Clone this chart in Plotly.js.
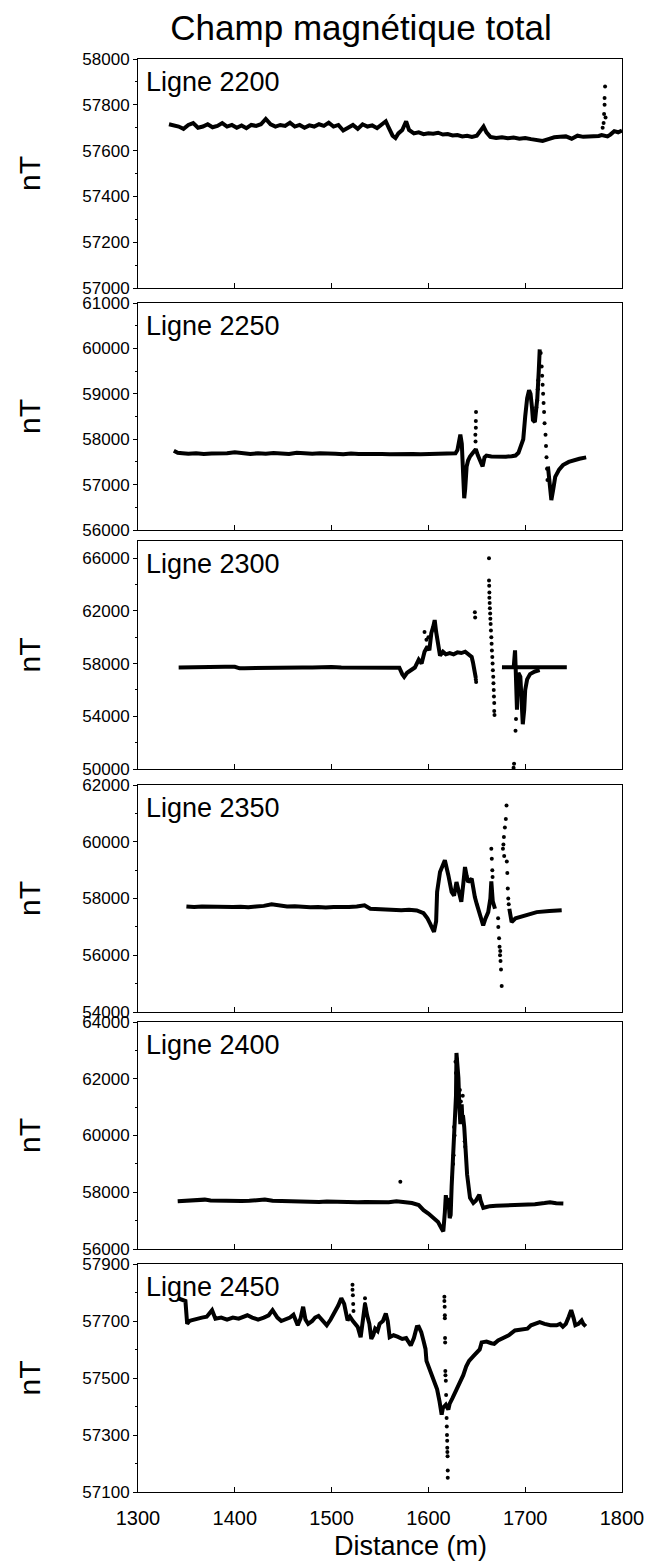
<!DOCTYPE html>
<html>
<head>
<meta charset="utf-8">
<script src="https://cdn.plot.ly/plotly-3.0.1.min.js"></script>
<style>html,body{margin:0;padding:0;background:#fff;}#chart{width:651px;height:1565px;}</style>
</head>
<body>
<div id="chart"></div>
<script>
// ---------- DATA ----------
var lineNames = ['Ligne 2200', 'Ligne 2250', 'Ligne 2300', 'Ligne 2350', 'Ligne 2400', 'Ligne 2450'];

// Ligne 2200
var x2200 = [1332,1337,1342,1347,1352,1357,1362,1367,1372,1377,1382,1387,1392,1397,1402,1407,1412,1417,1422,1427,1432,1437,1442,1447,1452,1457,1462,1467,1472,1477,1482,1487,1492,1497,1502,1507,1512,1517,1522,1527,1532,1537,1542,1547,1552,1556,1559,1563,1566,1569,1573,1577,1580,1585,1590,1595,1600,1605,1610,1615,1620,1625,1630,1635,1640,1645,1650,1654,1657,1660,1664,1670,1676,1682,1688,1694,1700,1706,1712,1718,1724,1730,1736,1742,1748,1754,1760,1766,1772,1776,1779,1785,1788,1792,1796,1800];
var y2200 = [57715,57712,57705,57695,57712,57720,57700,57705,57715,57702,57708,57720,57705,57712,57700,57710,57698,57712,57708,57715,57738,57715,57705,57712,57708,57722,57705,57712,57700,57710,57705,57715,57708,57722,57705,57712,57688,57700,57712,57695,57715,57705,57710,57698,57712,57728,57700,57665,57655,57675,57690,57728,57690,57675,57680,57672,57676,57674,57678,57670,57672,57666,57668,57662,57665,57660,57665,57690,57705,57680,57660,57655,57658,57654,57657,57652,57655,57650,57645,57642,57650,57658,57660,57662,57652,57665,57660,57662,57660,57664,57668,57662,57670,57685,57680,57688];
var dx2200 = [1780,1781,1781.5,1782,1782,1782.5,1783];
var dy2200 = [57700,57720,57760,57800,57830,57880,57745];

// Ligne 2250
var x2250 = [1337,1341,1346,1352,1360,1368,1376,1384,1392,1400,1408,1416,1424,1432,1440,1448,1456,1464,1472,1480,1488,1496,1504,1512,1520,1528,1536,1544,1552,1560,1568,1576,1584,1592,1600,1608,1616,1622,1628,1630,1631.5,1633,1634.5,1635,1636,1637,1638,1639.5,1641,1643,1646,1649,1651,1653,1656,1658,1660,1665,1672,1680,1686,1690,1693,1696,1698,1700,1702,1704,1705.5,1707,1708,1710,1711,1712.5,1714,1715,1719,1723.5,1725,1727,1729,1731,1735,1739,1745,1750,1756,1763];
var y2250 = [57745,57700,57690,57680,57690,57675,57685,57678,57690,57710,57685,57675,57690,57680,57695,57680,57672,57700,57685,57678,57690,57675,57682,57670,57685,57672,57678,57668,57675,57670,57678,57665,57672,57668,57675,57665,57670,57680,57690,57760,57950,58100,57900,57600,57100,56700,56900,57400,57530,57620,57700,57780,57650,57550,57400,57600,57640,57620,57610,57615,57625,57640,57700,57850,58000,58500,58900,59080,59000,58700,58420,58380,58600,58900,59500,59980,null,57400,57000,56660,56900,57170,57330,57430,57500,57540,57570,57600];
var dx2250 = [1648.5,1648.7,1649,1649,1649.2,1711.5,1712.5,1713,1713.5,1716,1717,1717.5,1718,1718.5,1719,1719.5,1720,1721,1721.5,1722,1722.5,1723];
var dy2250 = [58100,57950,58250,58400,58600,58700,58850,59100,59300,59900,59600,59400,59200,59000,58800,58600,58350,58100,57850,57600,57350,57100];

// Ligne 2300
var x2300 = [1342,1350,1360,1370,1380,1390,1400,1405,1410,1420,1430,1435,1440,1450,1455,1460,1470,1480,1490,1495,1500,1510,1520,1530,1540,1550,1560,1570,1573,1575,1578,1582,1586,1590,1593,1596,1599,1601,1603,1605,1606.5,1608,1610,1612,1615,1618,1622,1626,1630,1634,1638,1641,1644.7,1646,1648,1649,1660,1676,1690,1700,1710,1720,1730,1743,1744,1688,1689.5,1690,1690.5,1691,1691.5,1692,1693,1695,1696.5,1697.5,1699,1700,1702,1705,1710,1715];
var y2300 = [57700,57720,57740,57760,57760,57750,57760,57640,57650,57660,57670,57720,57680,57700,57760,57760,57700,57700,57720,57760,57740,57700,57690,57690,57680,57690,57680,57680,57200,57000,57300,57500,57700,58300,58000,58900,59300,59000,60300,60800,61300,60400,59600,58600,58900,58700,58800,58700,58850,58800,58900,58700,58500,58100,57300,56900,null,57720,57720,57720,57710,57720,57720,57720,null,57600,59000,58000,56500,55000,54500,56000,57300,57000,55000,53400,54500,56000,56800,57200,57400,57500];
var dx2300 = [1596,1598,1600,1648,1648.3,1649,1649.3,1662.6,1662.6,1662.8,1663,1663,1663.3,1663.5,1663.8,1664,1664.3,1664.6,1665,1665.3,1665.6,1666,1666.3,1666.6,1667,1667.2,1667.5,1667.7,1668,1668,1668.3,1688,1688.5,1690,1690.5];
var dy2300 = [60400,59800,60000,61900,61500,56800,56600,66000,64300,63900,63400,63000,62600,62200,61800,61400,61000,60500,60000,59500,59000,58500,58000,57500,57000,56500,56000,55500,55000,54400,54100,50100,50400,52900,53800];

// Ligne 2350
var x2350 = [1350,1358,1366,1374,1382,1390,1398,1406,1414,1422,1430,1438,1446,1454,1462,1470,1478,1486,1494,1502,1510,1518,1526,1534,1540,1548,1556,1564,1572,1580,1588,1595,1599,1602,1605.8,1608,1609,1612,1615,1617,1620.6,1622,1624,1626.5,1629,1631,1634,1636,1637.8,1639.5,1641,1644.7,1646,1648,1650,1653,1656.6,1659,1661.8,1664,1665,1666.5,1668.8,1676,1683.6,1686,1690,1694.6,1700,1711.9,1725,1737.7];
var y2350 = [57720,57700,57720,57710,57700,57720,57700,57710,57690,57720,57740,57800,57760,57720,57730,57700,57690,57700,57680,57700,57690,57700,57720,57760,57640,57620,57600,57610,57590,57600,57580,57480,57300,57100,56820,57200,58230,58935,59200,59350,58820,58500,58230,58100,58580,58300,57880,58500,59110,58800,58580,58700,58400,58050,57800,57460,57050,57300,57520,58000,58600,57900,57640,null,57640,57170,57300,57350,57420,57520,57560,57585];
var dx2350 = [1665,1665.5,1666,1666.3,1672,1672.2,1673,1673.5,1674,1674.2,1674.5,1675,1675.7,1677,1677.5,1678,1678.3,1679,1680,1680.7,1681,1681.5,1682,1682.5,1683];
var dy2350 = [59750,59400,59000,58760,57300,57000,56600,56300,56000,56150,55800,55500,54920,59750,59900,60170,59500,60500,60800,61280,59300,58900,58350,58000,57800];

// Ligne 2400
var x2400 = [1341,1349,1357,1365,1369,1375,1383,1391,1399,1407,1415,1423,1431,1439,1447,1455,1463,1471,1479,1487,1495,1503,1511,1519,1527,1535,1543,1551,1559,1567,1575,1583,1590,1595,1600,1605.5,1610,1614,1615.4,1617,1618,1619,1620.6,1622,1623,1624,1625,1626,1627.5,1628.5,1629,1631,1632,1633,1634.4,1635,1636,1637,1638.8,1640,1643,1646.4,1649,1652.6,1654,1656.7,1660,1663.6,1670,1680,1687.7,1700,1710,1720,1725.6,1732,1739.4];
var y2400 = [57680,57690,57700,57720,57740,57710,57700,57690,57700,57690,57700,57710,57740,57700,57690,57680,57690,57670,57680,57660,57670,57660,57650,57660,57650,57660,57650,57660,57650,57680,57660,57620,57550,57370,57250,57080,56950,56700,56620,57300,57900,57560,57800,57090,57200,58200,58850,59680,60850,61400,62910,62030,61000,60400,61100,60600,60620,60300,59450,58620,57800,57620,57700,57910,57700,57450,57480,57510,57520,57530,57540,57560,57580,57620,57650,57610,57600];
var dx2400 = [1571,1624.5,1625.5,1626,1626.5,1627,1628,1628.5,1629.3,1630,1632.5,1633.5,1635.5,1637.5,1638];
var dy2400 = [58370,58500,59000,59300,60300,60000,62600,62200,62700,61800,61600,61200,61400,59800,59600];

// Ligne 2450
var x2450 = [1341,1346,1349,1350.8,1353,1355,1360,1366,1371,1376.5,1380,1386,1392,1398,1404,1409,1413,1418,1424,1430,1435,1439,1444,1448,1453,1457,1460.6,1463,1465,1468,1470.6,1473,1475.8,1480,1483,1486.5,1490,1495,1499,1503.5,1507,1510,1513,1516.5,1519,1522,1525,1527,1530,1532,1534.5,1536.7,1539,1541,1543,1545,1547.5,1549.6,1553,1556,1558,1560,1564,1568,1573,1577,1581.8,1585,1588,1590,1592.6,1595,1597,1598,1600.7,1603,1605,1607.2,1609,1611.5,1613,1613.7,1615,1618,1620.6,1622,1625,1628,1631,1633.5,1636,1639,1642,1646,1650.7,1653,1655,1660,1665,1668,1672,1678.6,1683,1689.4,1695,1702.3,1706,1710,1715,1720,1726,1732.5,1736,1738.9,1742,1745,1747.5,1750,1751.8,1755,1758.3,1760,1762.6];
var y2450 = [57780,57775,57770,57690,57700,57702,57708,57712,57715,57738,57708,57712,57705,57712,57708,57715,57720,57712,57705,57712,57720,57738,57712,57700,57708,57712,57722,57705,57685,57710,57750,57705,57690,57700,57712,57718,57705,57685,57705,57730,57755,57780,57760,57702,57715,57700,57690,57679,57643,57690,57760,57720,57690,57637,57650,57673,57665,57690,57700,57726,57700,57643,57650,57645,57637,57640,57614,57640,57679,57680,57661,57630,57602,57560,57537,57510,57500,57483,57460,57418,57380,57371,57395,57406,57389,57410,57430,57450,57470,57489,57510,57540,57560,57575,57590,57600,57625,57628,57622,57620,57632,57643,57650,57667,57670,57673,57685,57690,57696,57690,57685,57685,57690,57680,57690,57715,57738,57710,57685,57690,57702,57690,57681];
var dx2450 = [1521.6,1521.6,1522,1522.3,1522.6,1534.5,1534.5,1535,1616.5,1616.5,1616.8,1617,1617,1617.2,1617.3,1617.5,1617.6,1618,1618.3,1618.8,1619,1619.2,1619.4,1619.5,1619.6,1619.8,1620,1620];
var dy2450 = [57827,57810,57790,57760,57735,57780,57760,57745,57785,57770,57750,57720,57710,57640,57625,57525,57510,57490,57440,57360,57330,57300,57280,57255,57240,57225,57175,57150];

// Tick values (y) per panel
var ticks2200 = [57000,57200,57400,57600,57800,58000];
var ticks2250 = [56000,57000,58000,59000,60000,61000];
var ticks2300 = [50000,54000,58000,62000,66000];
var ticks2350 = [54000,56000,58000,60000,62000];
var ticks2400 = [56000,58000,60000,62000,64000];
var ticks2450 = [57100,57300,57500,57700,57900];
var xTicks = [1300,1400,1500,1600,1700,1800];

// ---------- LAYOUT ----------
var W = 651, H = 1565;
var FONT = 'Liberation Sans, Arial, sans-serif';
var panelPx = [[59,288],[303,530],[541,769],[785,1012],[1022,1249],[1264,1492]];
var yRanges = [[57000,58000],[56000,61000],[50000,67300],[54000,62000],[56000,64000],[57100,57900]];
var minorStep = [100,500,2000,1000,1000,100];
var tickSets = [ticks2200,ticks2250,ticks2300,ticks2350,ticks2400,ticks2450];
var lineX = [x2200,x2250,x2300,x2350,x2400,x2450];
var lineY = [y2200,y2250,y2300,y2350,y2400,y2450];
var dotX = [dx2200,dx2250,dx2300,dx2350,dx2400,dx2450];
var dotY = [dy2200,dy2250,dy2300,dy2350,dy2400,dy2450];

var data = [];
var layout = {
  width: W, height: H,
  margin: {l:138, r:29, t:0, b:0, pad:0},
  paper_bgcolor: '#fff', plot_bgcolor: '#fff',
  showlegend: false,
  font: {family: FONT, color: '#000'},
  title: {
    text: 'Champ magnétique total',
    font: {family: FONT, size: 35, color: '#000'},
    x: 361 / W, xanchor: 'center', xref: 'container',
    y: 1 - 28 / H, yanchor: 'middle', yref: 'container'
  },
  annotations: []
};

for (var i = 0; i < 6; i++) {
  var sfx = i === 0 ? '' : String(i + 1);
  var xa = 'x' + sfx, ya = 'y' + sfx;
  data.push({
    type: 'scatter', mode: 'lines', x: lineX[i], y: lineY[i],
    xaxis: xa, yaxis: ya, connectgaps: false,
    line: {color: '#000', width: 4}, hoverinfo: 'skip'
  });
  data.push({
    type: 'scatter', mode: 'markers', x: dotX[i], y: dotY[i],
    xaxis: xa, yaxis: ya,
    marker: {color: '#000', size: 4}, hoverinfo: 'skip'
  });
  var pTop = panelPx[i][0], pBot = panelPx[i][1];
  var isLast = i === 5;
  layout['xaxis' + sfx] = {
    domain: [0, 1], anchor: ya, range: [1300, 1800],
    showline: true, mirror: true, linecolor: '#000', linewidth: 1,
    ticks: 'inside', ticklen: 5, tickcolor: '#000',
    tickmode: 'array', tickvals: xTicks,
    showticklabels: isLast, ticklabelstandoff: 8,
    tickfont: {family: FONT, size: 20, color: '#000'},
    showgrid: false, zeroline: false, fixedrange: true
  };
  layout['yaxis' + sfx] = {
    domain: [1 - pBot / H, 1 - pTop / H], anchor: xa, range: yRanges[i],
    showline: true, mirror: true, linecolor: '#000', linewidth: 1,
    ticks: 'outside', ticklen: 4, tickcolor: '#000',
    tickmode: 'array', tickvals: tickSets[i], tickformat: 'd',
    tickfont: {family: FONT, size: 17, color: '#000'},
    minor: {ticks: 'outside', ticklen: 2, tickcolor: '#000', dtick: minorStep[i], tick0: yRanges[i][0], showgrid: false},
    showgrid: false, zeroline: false, fixedrange: true,
    title: {text: 'nT', font: {family: FONT, size: 30, color: '#000'}, standoff: 32}
  };
  layout.annotations.push({
    text: lineNames[i], xref: xa + ' domain', yref: ya + ' domain',
    x: 0.012, y: 0.975, xanchor: 'left', yanchor: 'top', showarrow: false,
    font: {family: FONT, size: 27, color: '#000'}
  });
}
layout.annotations.push({
  text: 'Distance (m)', xref: 'paper', yref: 'paper',
  x: (410 - 138) / (W - 138 - 29), y: 1 - 1546 / H, xanchor: 'center', yanchor: 'middle',
  showarrow: false, font: {family: FONT, size: 27, color: '#000'}
});

Plotly.newPlot('chart', data, layout, {staticPlot: true, displayModeBar: false});
</script>
</body>
</html>
